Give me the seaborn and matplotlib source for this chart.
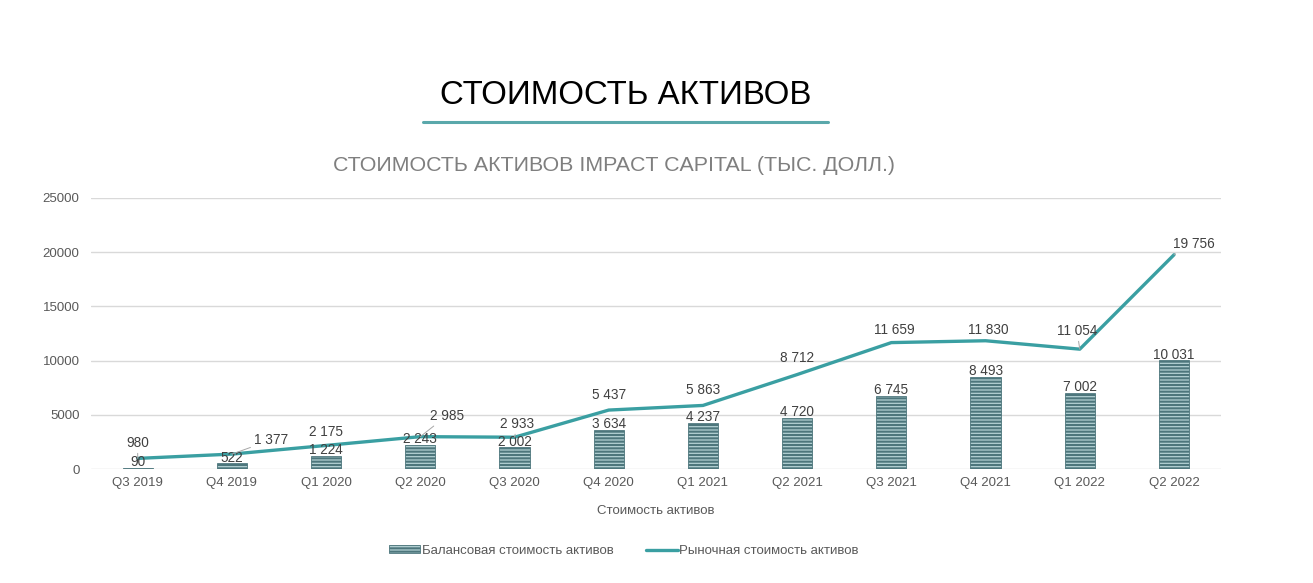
import matplotlib
matplotlib.use("Agg")
import matplotlib.pyplot as plt
import seaborn as sns
import pandas as pd
from matplotlib.patches import Patch
from matplotlib.lines import Line2D

quarters = ["Q3 2019", "Q4 2019", "Q1 2020", "Q2 2020", "Q3 2020", "Q4 2020",
            "Q1 2021", "Q2 2021", "Q3 2021", "Q4 2021", "Q1 2022", "Q2 2022"]
book_value = [90, 522, 1224, 2243, 2002, 3634, 4237, 4720, 6745, 8493, 7002, 10031]
market_value = [980, 1377, 2175, 2985, 2933, 5437, 5863, 8712, 11659, 11830, 11054, 19756]
y_ticks = [0, 5000, 10000, 15000, 20000, 25000]

title = "СТОИМОСТЬ АКТИВОВ"
subtitle = "СТОИМОСТЬ АКТИВОВ IMPACT CAPITAL (ТЫС. ДОЛЛ.)"
x_label = "Стоимость активов"
bar_name = "Балансовая стоимость активов"
line_name = "Рыночная стоимость активов"

# label offsets (points) for market value labels and whether a leader line is drawn
line_label_offsets = [(0, 6), (28, 5), (0, 4.5), (19, 10), (2, 4.5), (0, 6),
                      (0, 6), (0, 7), (2, 4), (2, 2.5), (-2, 8), (14, 3)]
line_label_leader = [True, True, False, True, True, False,
                     False, False, False, False, True, True]

sns.set_theme(style="white")
plt.rcParams['font.family'] = ['Liberation Sans', 'DejaVu Sans']
plt.rcParams['hatch.linewidth'] = 1.5

df = pd.DataFrame({"quarter": quarters, "book": book_value, "market": market_value})

fig = plt.figure(figsize=(13.13, 5.83), dpi=100)
ax = fig.add_axes([0.069, 0.1955, 0.861, 0.465])

bar_face = "#b3d0d3"
bar_edge = "#4d767c"
line_color = "#3a9fa2"
text_color = "#404040"
tick_color = "#595959"

sns.barplot(data=df, x="quarter", y="book", ax=ax, color=bar_face, width=0.32,
            saturation=1, zorder=2)
for p in ax.patches:
    p.set_facecolor(bar_face)
    p.set_edgecolor(bar_edge)
    p.set_hatch("-----")
    p.set_linewidth(0.6)

sns.lineplot(data=df, x="quarter", y="market", ax=ax, color=line_color,
             linewidth=2.4, sort=False, zorder=3)

ax.set_ylim(0, 25000)
ax.set_xlim(-0.5, len(quarters) - 0.5)
ax.set_yticks(y_ticks)
ax.set_yticklabels([str(v) for v in y_ticks])
ax.yaxis.grid(True, color="#d9d9d9", linewidth=1, zorder=0)
ax.set_axisbelow(True)
for s in ax.spines.values():
    s.set_visible(False)
ax.tick_params(axis="both", length=0, labelsize=9.5, colors=tick_color)
ax.tick_params(axis="y", pad=8)
ax.tick_params(axis="x", pad=6)
ax.set_xlabel(x_label, fontsize=9.5, color=tick_color, labelpad=11)
ax.set_ylabel("")


def fmt(v):
    return f"{v:,}".replace(",", " ")


for i, v in enumerate(book_value):
    ax.annotate(fmt(v), (i, v), xytext=(0, -1), textcoords="offset points",
                ha="center", va="bottom", fontsize=9.8, color=text_color, zorder=5)

for i, v in enumerate(market_value):
    dx, dy = line_label_offsets[i]
    kw = {}
    if line_label_leader[i]:
        kw["arrowprops"] = dict(arrowstyle="-", color="#a6a6a6", lw=0.7,
                                shrinkA=0, shrinkB=0)
    ax.annotate(fmt(v), (i, v), xytext=(dx, dy), textcoords="offset points",
                ha="center", va="bottom", fontsize=9.8, color=text_color, zorder=6, **kw)

fig.text(0.4765, 0.836, title, ha="center", va="center", fontsize=23.8,
         color="#000000")
fig.add_artist(Line2D([423 / 1313, 828 / 1313], [1 - 122 / 583, 1 - 122 / 583],
                      color="#5aa8ab", linewidth=2.2, transform=fig.transFigure))
fig.text(0.468, 0.716, subtitle, ha="center", va="center", fontsize=15.4,
         color="#7f7f7f")

handles = [Patch(facecolor=bar_face, edgecolor=bar_edge, hatch="-----", linewidth=0.6),
           Line2D([0], [0], color=line_color, linewidth=2.4)]
fig.legend(handles, [bar_name, line_name], loc="center", bbox_to_anchor=(0.475, 0.055),
           ncol=2, frameon=False, fontsize=9.5, handlelength=2.4, handleheight=0.5,
           handletextpad=0.1, columnspacing=2.5, labelcolor=tick_color)

fig.savefig("out.png", dpi=100)
